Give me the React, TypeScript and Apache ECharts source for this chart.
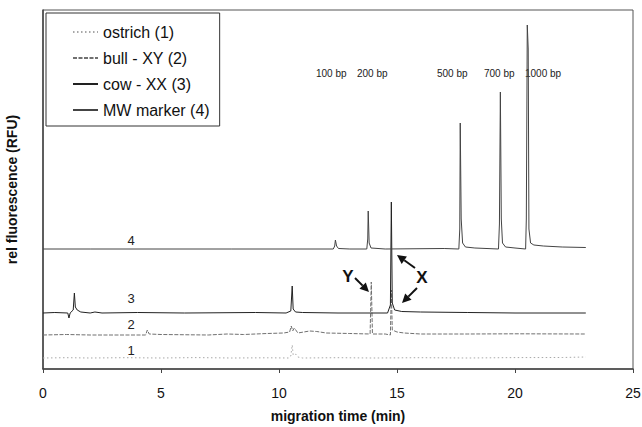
import React, { useEffect, useRef } from "react";
import * as echarts from "echarts";

// Series names (legend order)
const seriesNames = ["ostrich (1)", "bull - XY (2)", "cow - XX (3)", "MW marker (4)"];
// Vertical display offsets of each trace (stacked chromatograms, arbitrary RFU)
const offsets = [11, 34, 56, 120];

// [migration time (min), signal above trace baseline]
const ostrich: number[][] = [
  [0, 0], [1, 0.3], [2, 0], [3.5, 0.3], [5, 0], [6.5, 0.4], [8, 0], [9.5, 0.2], [10.4, 0],
  [10.5, 2], [10.56, 13], [10.6, 3], [10.7, 4], [10.8, 1], [11, 0], [12.5, 0.3], [14, 0],
  [16, 0.3], [18, 0], [20, 0.4], [22, 0.5], [23, 1],
];
const bull: number[][] = [
  [0, 0], [1, 0.5], [2, 0], [3, 0], [4.35, 0], [4.42, 5], [4.5, 1], [5, 0.5], [7, 0],
  [7.8, 1], [8.5, 0.5], [9.5, 1.5], [10.2, 2], [10.45, 3], [10.52, 9], [10.58, 4], [10.65, 7],
  [10.8, 2], [11.3, 4], [11.6, 3.5], [12, 2], [13, 1.5], [13.86, 1], [13.91, 53], [13.96, 1],
  [14.5, 1], [14.72, 0], [14.76, 45], [14.8, 5], [15, 3], [15.3, 2], [16, 1], [18, 1], [20, 1.2], [23, 1],
];
const cow: number[][] = [
  [0, 0], [0.5, 0.5], [1.05, 0], [1.1, -5], [1.15, 0], [1.28, 3], [1.33, 20], [1.37, 6],
  [1.45, 3], [1.6, 1], [2, 0], [2.2, 1], [2.5, 0], [4, 0.5], [6, 0], [9, 0.5], [10.3, 0],
  [10.5, 2], [10.56, 27], [10.6, 4], [10.7, 1], [11, 0.5], [12.5, 0], [14.6, 0], [14.72, 8],
  [14.76, 111], [14.8, 10], [14.9, 3], [15.2, 1.5], [16, 1], [18, 0.5], [20, 0], [23, 0],
];
const marker: number[][] = [
  [0, 0], [2, 0], [5, 0], [8, 0], [10, 0], [12.3, 0], [12.36, 3], [12.39, 9], [12.44, 3],
  [12.52, 0.5], [13, 0], [13.72, 0], [13.76, 10], [13.78, 38], [13.82, 6], [13.9, 1], [14.5, 0],
  [17, 0.5], [17.62, 0], [17.66, 20], [17.68, 126], [17.72, 30], [17.78, 6], [17.9, 2], [18.3, 1],
  [19.3, 0], [19.34, 25], [19.38, 157], [19.42, 30], [19.47, 6], [19.6, 2], [20, 1], [20.45, 0],
  [20.48, 30], [20.52, 224], [20.56, 200], [20.59, 20], [20.66, 6], [20.8, 4], [21.2, 3], [22, 2], [23, 1.5],
];
const traces = [ostrich, bull, cow, marker];

// Annotation texts
const bpLabels = ["100 bp", "200 bp", "500 bp", "700 bp", "1000 bp"];
const traceLabels = ["1", "2", "3", "4"];

const FONT = "'Liberation Sans', Arial, Helvetica, sans-serif";

function arrow(x1: number, y1: number, x2: number, y2: number) {
  const ang = Math.atan2(y2 - y1, x2 - x1);
  const len = 9, half = 4.5;
  const bx = x2 - len * Math.cos(ang), by = y2 - len * Math.sin(ang);
  const px = -Math.sin(ang) * half, py = Math.cos(ang) * half;
  return [
    { type: "line", shape: { x1, y1, x2: bx, y2: by }, style: { stroke: "#111", lineWidth: 2 } },
    {
      type: "polygon",
      shape: { points: [[x2, y2], [bx + px, by + py], [bx - px, by - py]] },
      style: { fill: "#111" },
    },
  ];
}

export default function App() {
  const ref = useRef<HTMLDivElement>(null);
  useEffect(() => {
    document.body.style.margin = "0";
    const chart = echarts.init(ref.current!, null, { renderer: "svg" });
    const styles = [
      { color: "#a8a8a8", type: [1.5, 2.5] as any, width: 1 },
      { color: "#707070", type: [4, 1.5] as any, width: 1 },
      { color: "#222", type: "solid", width: 1 },
      { color: "#444", type: "solid", width: 1 },
    ];
    const series = traces.map((tr, i) => ({
      name: seriesNames[i],
      type: "line",
      showSymbol: false,
      symbol: "none",
      lineStyle: styles[i],
      itemStyle: { color: styles[i].color },
      data: tr.map((p) => [p[0], p[1] + offsets[i]]),
      z: 2 + i,
    }));
    const bpX = [316, 357, 437, 484, 525];
    const trLabelY = [350, 324, 298, 240];
    const graphic: any[] = [
      ...bpLabels.map((t, i) => ({
        type: "text", x: bpX[i], y: 73,
        style: { text: t, fontSize: 10, fontFamily: FONT, fill: "#222", verticalAlign: "middle" },
      })),
      ...traceLabels.map((t, i) => ({
        type: "text", x: 131, y: trLabelY[i],
        style: { text: t, fontSize: 13, fontFamily: FONT, fill: "#222", align: "center", verticalAlign: "middle" },
      })),
      { type: "text", x: 348, y: 276, style: { text: "Y", fontSize: 17, fontWeight: "bold", fontFamily: FONT, fill: "#111", align: "center", verticalAlign: "middle" } },
      { type: "text", x: 422, y: 277, style: { text: "X", fontSize: 17, fontWeight: "bold", fontFamily: FONT, fill: "#111", align: "center", verticalAlign: "middle" } },
      ...arrow(355, 278, 369, 292),
      ...arrow(415, 268, 397, 255),
      ...arrow(417, 288, 402, 303),
    ];
    chart.setOption({
      animation: false,
      backgroundColor: "#fff",
      grid: {
        left: 43, right: 9, top: 10, bottom: 58, show: true, borderColor: "#555", borderWidth: 1,
        outerBoundsMode: "none",
      },
      legend: {
        orient: "vertical",
        left: 46,
        top: 13,
        data: seriesNames,
        itemWidth: 25,
        itemHeight: 14,
        itemGap: 10,
        padding: [11, 10, 8, 26],
        borderColor: "#333",
        borderWidth: 1,
        backgroundColor: "#fff",
        itemStyle: { opacity: 0 },
        textStyle: { fontSize: 16, fontFamily: FONT, color: "#111" },
      },
      xAxis: {
        type: "value",
        min: 0,
        max: 25,
        interval: 5,
        name: "migration time (min)",
        nameLocation: "middle",
        nameGap: 40,
        nameTextStyle: { fontSize: 14, fontWeight: "bold", fontFamily: FONT, color: "#111" },
        axisLine: { show: true, lineStyle: { color: "#444", width: 1.5 } },
        axisTick: { show: true, length: 4, lineStyle: { color: "#444" } },
        axisLabel: { fontSize: 14, fontFamily: FONT, color: "#111", margin: 17 },
        splitLine: { show: false },
      },
      yAxis: {
        type: "value",
        min: 0,
        max: 359,
        name: "rel fluorescence (RFU)",
        nameLocation: "middle",
        nameGap: 24,
        nameTextStyle: { fontSize: 14, fontWeight: "bold", fontFamily: FONT, color: "#111" },
        axisLine: { show: true, lineStyle: { color: "#444", width: 1.5 } },
        axisTick: { show: false },
        axisLabel: { show: false },
        splitLine: { show: false },
      },
      series,
      graphic,
    });
    return () => chart.dispose();
  }, []);
  return <div ref={ref} style={{ width: 642, height: 427 }} />;
}
